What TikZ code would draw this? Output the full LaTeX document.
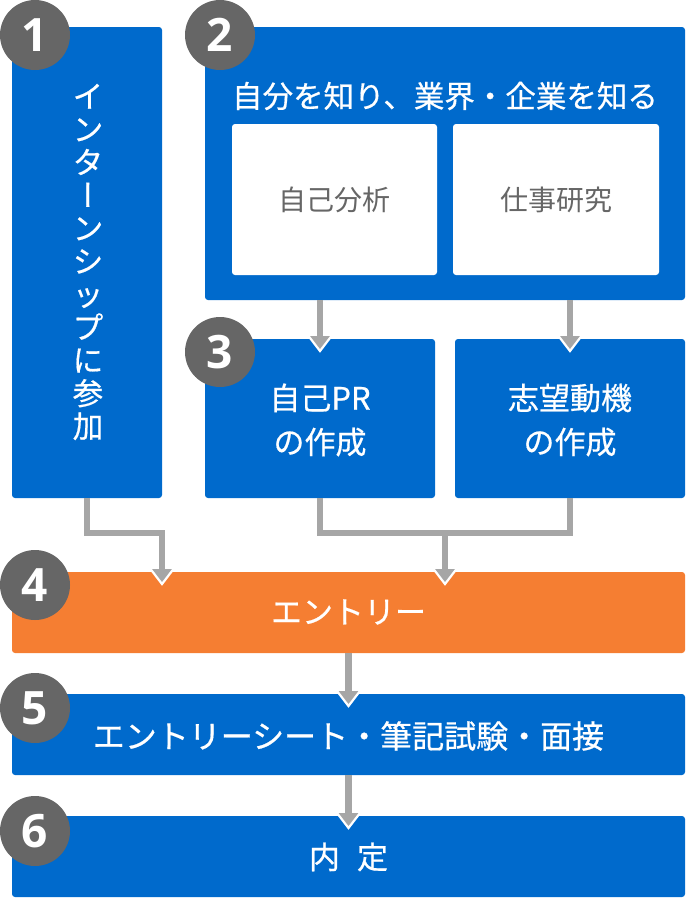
\documentclass[tikz,border=0pt]{standalone}
\usepackage{fontspec}
\setmainfont{Noto Sans CJK JP}
\newfontfamily\wfont{Noto Sans CJK JP}[FakeBold=0.6]
\newfontfamily\numfont{Open Sans}
\usetikzlibrary{arrows.meta,calc}
\definecolor{mblue}{RGB}{0,106,204}
\definecolor{morange}{RGB}{245,126,50}
\definecolor{mgray}{RGB}{102,102,102}
\definecolor{agray}{RGB}{166,166,166}
\newcommand{\vbar}{{\addfontfeature{RawFeature=+vert}ー}}
\begin{document}
\begin{tikzpicture}[x=1pt,y=-1pt,
  box/.style={fill=mblue, rounded corners=3pt, inner sep=0pt, draw=none},
  obox/.style={fill=morange, rounded corners=3pt, inner sep=0pt, draw=none},
  wbox/.style={fill=white, rounded corners=3pt, inner sep=0pt, draw=none},
  num/.style={circle, fill=mgray, minimum size=70pt, inner sep=0pt, text=white,
    font=\numfont\bfseries\fontsize{46}{46}\selectfont},
  conn/.style={draw=agray, line width=6.5pt, line join=miter},
  wtxt/.style={text=white, font=\wfont\fontsize{30.5}{33}\selectfont, align=center, inner sep=0pt},
  gtxt/.style={text=mgray, font=\fontsize{28}{30}\selectfont, inner sep=0pt},
  tip/.pic={\filldraw[fill=agray, draw=white, line width=2.2pt, line join=miter]
     (-11.5,-15) -- (0,0) -- (11.5,-15);}
]
\useasboundingbox (0,0) rectangle (686,900);

% boxes
\node[box, minimum width=150pt, minimum height=471pt] (b1) at (87,262.5) {};
\node[box, minimum width=480pt, minimum height=273pt] (b2) at (445,163.5) {};
\node[wbox, minimum width=205pt, minimum height=151pt] (w1) at (334.5,199.5) {};
\node[wbox, minimum width=206pt, minimum height=151pt] (w2) at (556,199.5) {};
\node[box, minimum width=230pt, minimum height=159pt] (b3a) at (320,418.5) {};
\node[box, minimum width=230pt, minimum height=159pt] (b3b) at (570,418.5) {};
\node[obox, minimum width=673pt, minimum height=81pt] (entry) at (348.5,612.5) {};
\node[box, minimum width=673pt, minimum height=81pt] (b5) at (348.5,734.5) {};
\node[box, minimum width=673pt, minimum height=81pt] (b6) at (348.5,856.5) {};

% texts
\node[wtxt] (t1txt) at (88,262) {イ\\ン\\タ\\\vbar\\ン\\シ\\ッ\\プ\\に\\参\\加};
\node[wtxt] (t2txt) at (445,96) {自分を知り、業界・企業を知る};
\node[gtxt] at (w1) {自己分析};
\node[gtxt] at (w2) {仕事研究};
\node[wtxt, font=\wfont\fontsize{31}{44}\selectfont] at (320,420) {自己PR\\の作成};
\node[wtxt, font=\wfont\fontsize{31}{44}\selectfont] at (570,420) {志望動機\\の作成};
\node[wtxt, font=\wfont\fontsize{31}{33}\selectfont] at (348.5,612) {エントリー};
\node[wtxt, font=\wfont\fontsize{32}{33}\selectfont] at (348.5,736) {エントリーシート・筆記試験・面接};
\node[wtxt, font=\wfont\fontsize{31}{33}\selectfont] at (348.5,857) {内\hspace{0.55em}定};

% connector coordinates
\coordinate (k1) at (87,533);
\coordinate (jn) at (445,533);
\coordinate (t3a) at (320,351);
\coordinate (t3b) at (570,351);
\coordinate (t4a) at (162,584);
\coordinate (t4b) at (445,584);
\coordinate (t5) at (348.5,706);
\coordinate (t6) at (348.5,828);

% connectors
\draw[conn, shorten >=9pt] (b2.south -| t3a) -- (t3a);
\draw[conn, shorten >=9pt] (b2.south -| t3b) -- (t3b);
\draw[conn, shorten >=9pt] (b1.south) -- (k1) -| (t4a);
\draw[conn] (b3a.south) |- (jn) -| (b3b.south);
\draw[conn, shorten >=9pt] (jn) -- (t4b);
\draw[conn, shorten >=9pt] (entry.south) -- (t5);
\draw[conn, shorten >=9pt] (b5.south) -- (t6);
\foreach \t in {t3a,t3b,t4a,t4b,t5,t6} \pic at (\t) {tip};

% numbers
\node[num] (n1) at (35,35) {1};
\node[num] (n2) at (220,35) {2};
\node[num] (n3) at (220,352) {3};
\node[num] (n4) at (35,585) {4};
\node[num] (n5) at (35,708) {5};
\node[num] (n6) at (35,831) {6};
\end{tikzpicture}
\end{document}
